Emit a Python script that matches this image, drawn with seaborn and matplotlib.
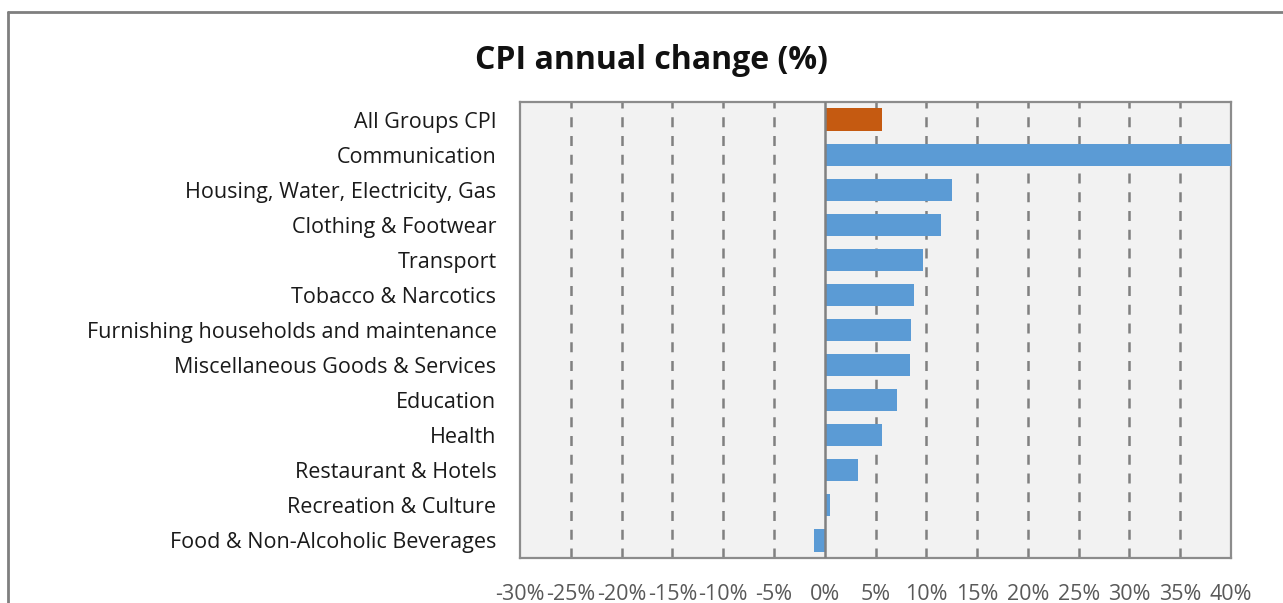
import matplotlib
matplotlib.use("Agg")
import matplotlib.pyplot as plt
from matplotlib.lines import Line2D
from matplotlib.ticker import FuncFormatter
import seaborn as sns
import pandas as pd

categories = [
    "All Groups CPI",
    "Communication",
    "Housing, Water, Electricity, Gas",
    "Clothing & Footwear",
    "Transport",
    "Tobacco & Narcotics",
    "Furnishing households and maintenance",
    "Miscellaneous Goods & Services",
    "Education",
    "Health",
    "Restaurant & Hotels",
    "Recreation & Culture",
    "Food & Non-Alcoholic Beverages",
]
values = [5.6, 45.0, 12.5, 11.4, 9.7, 8.8, 8.5, 8.4, 7.1, 5.6, 3.3, 0.5, -1.1]
groups = ["total"] + ["item"] * (len(categories) - 1)
palette = {"total": "#C55A11", "item": "#5B9BD5"}
x_ticks = list(range(-30, 41, 5))

df = pd.DataFrame({"category": categories, "value": values, "group": groups})

sns.set_style("white")
plt.rcParams["font.family"] = ["Open Sans", "DejaVu Sans"]

fig = plt.figure(figsize=(12.83, 6.03), dpi=100)
ax = fig.add_axes([520 / 1283, 1 - 558 / 603, 711 / 1283, 456 / 603])
ax.set_facecolor("#F2F2F2")

sns.barplot(data=df, x="value", y="category", hue="group", palette=palette,
            orient="h", width=0.63, dodge=False, legend=False, ax=ax,
            saturation=1, linewidth=0, zorder=3)

ax.set_xlim(-30, 40)
ax.set_xticks(x_ticks)
ax.xaxis.set_major_formatter(FuncFormatter(lambda v, p: f"{v:.0f}%"))
for t in x_ticks[1:-1]:
    if t != 0:
        ax.axvline(t, color="#808080", lw=1.8, ls=(0, (4, 3.5)), zorder=1)
ax.axvline(0, color="#808080", lw=1.8, zorder=4)

ax.set_xlabel("")
ax.set_ylabel("")
ax.tick_params(axis="x", length=0, pad=19, labelsize=15.5, labelcolor="#595959")
ax.tick_params(axis="y", length=0, pad=17, labelsize=15.5, labelcolor="#1A1A1A")
for s in ax.spines.values():
    s.set_color("#8C8C8C")
    s.set_linewidth(1.6)

ax.set_title("CPI annual change (%)", fontsize=23, fontweight="bold",
             color="#111111", pad=24, x=0.185)

# outer chart border
fig.add_artist(Line2D([8 / 1283, 8 / 1283], [0, 1 - 12 / 603],
                      transform=fig.transFigure, color="#7F7F7F", lw=2))
fig.add_artist(Line2D([8 / 1283, 1], [1 - 12 / 603, 1 - 12 / 603],
                      transform=fig.transFigure, color="#7F7F7F", lw=2))

fig.savefig("out.png", dpi=100)
